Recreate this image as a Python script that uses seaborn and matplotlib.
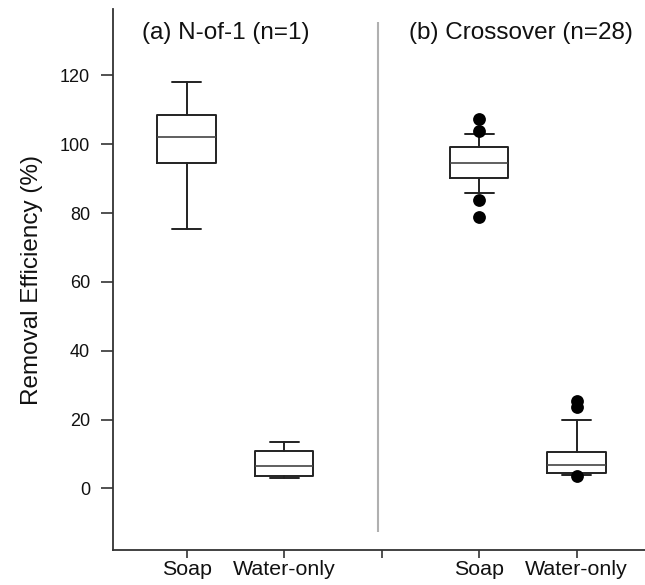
import numpy as np
import pandas as pd
import matplotlib
matplotlib.use("Agg")
import matplotlib.pyplot as plt
import seaborn as sns

# box summaries (positions 0,1 = panel a; 3,4 = panel b)
positions = [0, 1, 3, 4]
labels = ["Soap", "Water-only", "Soap", "Water-only"]
whisker_low = [75.3, 2.9, 85.7, 3.8]
q1 = [94.7, 3.6, 90.2, 4.6]
median = [102.0, 6.6, 94.5, 6.8]
q3 = [108.5, 10.8, 99.1, 10.6]
whisker_high = [118.0, 13.5, 102.9, 19.8]

# outliers
flier_pos = [3, 3, 3, 3, 4, 4, 4]
flier_val = [107.4, 103.8, 83.9, 78.8, 25.4, 23.8, 3.6]

titles = ["(a) N-of-1 (n=1)", "(b) Crossover (n=28)"]
title_x = [0.395, 3.43]

sns.set_style("ticks")
plt.rcParams['font.family'] = ['Liberation Sans', 'DejaVu Sans']

fig = plt.figure(figsize=(6.45, 5.85), dpi=100)
ax = fig.add_axes([0.1757, 0.0598, 0.8243, 0.9248])

stats = []
for i in range(len(positions)):
    stats.append({'med': median[i], 'q1': q1[i], 'q3': q3[i],
                  'whislo': whisker_low[i], 'whishi': whisker_high[i],
                  'fliers': []})

line = dict(color='#222222', linewidth=1.4)
ax.bxp(stats, positions=positions, widths=0.6, showfliers=False,
       boxprops=line, whiskerprops=line, capprops=line,
       medianprops=dict(color='#444444', linewidth=1.2))

fl = pd.DataFrame({'pos': flier_pos, 'val': flier_val})
sns.scatterplot(data=fl, x='pos', y='val', color='black', s=85,
                edgecolor='black', linewidth=0, ax=ax, zorder=3)

# divider between the two panels
ax.vlines(1.96, -12.6, 135.6, color='#b0b0b0', linewidth=1.5)

for t, x in zip(titles, title_x):
    ax.text(x, 132.4, t, ha='center', va='center', fontsize=17.5, color='#111111')

ax.set_xlim(-0.753, 4.70)
ax.set_ylim(-17.9, 139.3)
ax.set_xticks([0, 1, 2, 3, 4])
ax.set_xticklabels(["Soap", "Water-only", "", "Soap", "Water-only"], fontsize=15.4)
ax.set_yticks([0, 20, 40, 60, 80, 100, 120])
ax.tick_params(axis='y', labelsize=13, length=8.4, pad=8.4)
ax.tick_params(axis='x', length=5.8, pad=1.5)
ax.tick_params(width=1.2, color='#333333', labelcolor='#111111')
ax.set_xlabel('')
ax.set_ylabel('Removal Efficiency (%)', fontsize=17.5, color='#111111', labelpad=12)

sns.despine(ax=ax)
for s in ['left', 'bottom']:
    ax.spines[s].set_color('#333333')
    ax.spines[s].set_linewidth(1.3)

fig.savefig('out.png', dpi=100)
